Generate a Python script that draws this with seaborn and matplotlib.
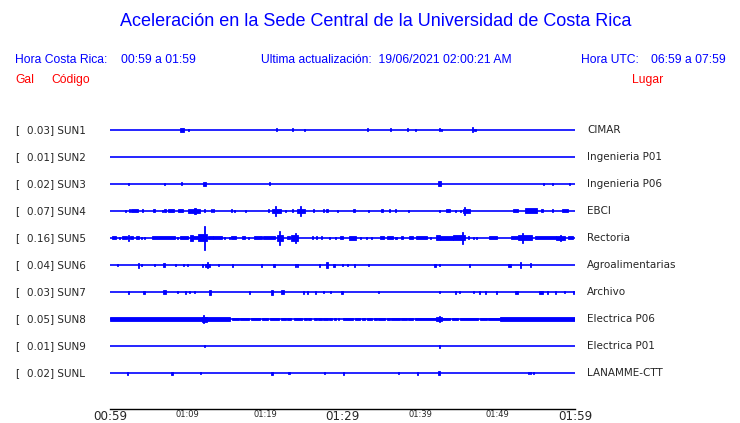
import numpy as np
import pandas as pd
import matplotlib
matplotlib.use("Agg")
import matplotlib.pyplot as plt
import seaborn as sns

# stations, top to bottom
codes = ["SUN1", "SUN2", "SUN3", "SUN4", "SUN5", "SUN6", "SUN7", "SUN8", "SUN9", "SUNL"]
peak_gal = [0.03, 0.01, 0.02, 0.07, 0.16, 0.04, 0.03, 0.05, 0.01, 0.02]
places = ["CIMAR", "Ingenieria P01", "Ingenieria P06", "EBCI", "Rectoria",
          "Agroalimentarias", "Archivo", "Electrica P06", "Electrica P01", "LANAMME-CTT"]

# bursts: (start minute, end minute, half amplitude)
sun1 = [(9.0, 9.5, 2), (10.1, 10.1, 1), (21.5, 21.5, 1.5), (23.5, 23.5, 1.5), (25.1, 25.1, 1),
        (33.2, 33.2, 1.5), (36.2, 36.2, 1.5), (38.4, 38.4, 1.5), (39.4, 39.4, 1),
        (42.4, 42.6, 1.5), (42.8, 42.8, 1), (46.8, 46.8, 2.5), (47.1, 47.1, 1)]
sun2 = []
sun3 = [(2.4, 2.4, 1), (7.0, 7.0, 1), (9.25, 9.25, 1.5), (12.0, 12.4, 2), (20.6, 20.6, 1.5),
        (42.3, 42.7, 2.5), (55.9, 55.9, 1), (57.1, 57.1, 1), (59.3, 59.3, 1)]
sun4 = [(2.0, 2.0, 1), (2.5, 2.5, 1.5), (2.7, 3.6, 1.5), (4.2, 4.2, 1.5), (5.5, 5.8, 1.5),
        (6.8, 6.8, 1), (7.0, 7.2, 1.5), (7.5, 8.2, 1.5), (8.8, 9.4, 1.5), (10.1, 11.6, 2),
        (10.9, 11.1, 3), (12.2, 12.2, 1.5), (13.1, 13.1, 1.5), (13.3, 13.3, 1.5),
        (15.7, 15.7, 1.5), (16.1, 16.1, 1), (17.5, 17.5, 1), (20.4, 20.4, 1.5), (20.9, 22.1, 2),
        (21.3, 21.3, 5), (22.6, 22.6, 1), (23.6, 23.6, 1.5), (24.1, 25.2, 2), (24.6, 24.6, 5),
        (26.2, 26.2, 1.5), (27.6, 27.6, 1.5), (28.0, 28.0, 1.5), (29.3, 29.3, 1),
        (31.3, 31.6, 1.5), (33.3, 33.3, 1), (35.1, 35.1, 1.5), (36.1, 36.1, 1.5),
        (36.8, 36.8, 1.5), (38.5, 38.5, 1), (42.5, 42.5, 1), (43.4, 43.9, 1.5), (44.6, 44.6, 1),
        (45.2, 45.2, 1), (45.5, 46.5, 2), (45.7, 45.7, 4), (52.0, 52.6, 1.5), (53.5, 55.1, 2.5),
        (55.6, 55.9, 1.5), (57.1, 57.1, 1.5), (58.3, 59.1, 1.5)]
sun5 = [(0.2, 0.8, 1.5), (1.2, 1.2, 1), (1.5, 2.2, 1.5), (2.4, 2.4, 3), (2.6, 3.0, 1.5),
        (3.3, 3.7, 1.5), (4.1, 4.1, 1), (4.5, 4.5, 1), (5.4, 8.4, 1.5), (8.7, 8.7, 1),
        (9.0, 10.1, 1.5), (10.3, 10.7, 3), (10.7, 11.4, 1.5), (11.4, 12.5, 3.5), (12.2, 12.2, 12),
        (12.7, 13.3, 1.5), (13.3, 14.4, 1.5), (14.8, 14.8, 1), (15.4, 15.4, 1), (15.6, 16.3, 1.5),
        (17.0, 17.4, 1.5), (17.9, 17.9, 1), (18.6, 19.6, 1.5), (19.7, 21.3, 1.5), (21.5, 22.3, 3),
        (21.9, 21.9, 7), (22.8, 23.2, 1.5), (23.4, 24.3, 3), (23.9, 23.9, 5), (26.1, 26.1, 1.5),
        (26.6, 26.6, 1.5), (27.3, 27.3, 1.5), (28.3, 28.3, 1), (29.1, 29.1, 1), (29.7, 30.1, 1.5),
        (30.8, 31.8, 2), (32.3, 32.3, 1), (33.1, 33.1, 1), (33.8, 33.8, 1), (34.8, 35.3, 1.5),
        (35.8, 36.5, 1.5), (36.9, 36.9, 1), (37.5, 37.8, 1.5), (38.6, 39.1, 1.5), (39.5, 40.9, 1.5),
        (41.3, 41.3, 1), (42.1, 42.6, 2.5), (42.6, 44.3, 2), (44.3, 45.8, 2.5), (45.5, 45.5, 6),
        (46.2, 46.2, 1.5), (46.9, 46.9, 1), (47.3, 47.3, 1), (48.9, 49.9, 1.5), (51.8, 52.7, 1.5),
        (52.7, 54.4, 2.5), (53.2, 53.2, 5), (54.8, 57.6, 1.5), (57.6, 58.7, 2), (58.1, 58.1, 3),
        (59.1, 59.8, 1.5)]
sun6 = [(1.0, 1.0, 1), (3.6, 3.8, 2.5), (4.1, 4.1, 1), (5.8, 5.8, 1), (6.9, 7.1, 2), (8.4, 8.4, 1),
        (9.5, 9.5, 1), (10.0, 10.0, 1), (11.9, 11.9, 1.5), (12.3, 12.9, 1.5), (12.6, 12.6, 3),
        (14.0, 14.0, 1), (15.8, 15.8, 1.5), (19.6, 19.6, 1.5), (21.0, 21.3, 1.5), (23.9, 23.9, 1.5),
        (24.2, 24.2, 1.5), (27.0, 27.0, 1.5), (28.0, 28.0, 3), (28.9, 28.9, 1.5), (30.0, 30.0, 1),
        (30.6, 30.6, 1), (31.6, 31.6, 1.5), (33.3, 33.3, 1), (41.8, 42.0, 1.5), (42.5, 42.5, 1),
        (46.3, 46.5, 1.5), (51.4, 51.8, 1.5), (53.0, 53.0, 3), (54.3, 54.3, 2)]
sun7 = [(2.4, 2.4, 1.5), (4.3, 4.5, 1.5), (6.9, 7.2, 2), (8.7, 8.7, 1), (9.8, 9.8, 1.5),
        (10.3, 10.3, 1), (10.9, 10.9, 1), (12.9, 12.9, 2.5), (17.9, 18.1, 1.5), (20.9, 20.9, 2.5),
        (22.0, 22.4, 2), (25.0, 25.0, 1.5), (25.5, 25.5, 1.5), (26.5, 26.5, 1.5), (27.5, 27.5, 1),
        (28.4, 28.4, 1), (29.8, 30.0, 1.5), (34.7, 34.7, 1), (42.5, 42.5, 1), (44.5, 44.7, 1.5),
        (45.1, 45.1, 1), (46.9, 46.9, 1), (47.7, 47.7, 1.5), (48.4, 48.4, 1.5), (49.9, 49.9, 1.5),
        (52.3, 52.7, 1.5), (55.4, 55.9, 1.5), (56.4, 56.4, 1.5), (57.5, 57.5, 1.5), (58.6, 58.6, 1),
        (59.8, 59.8, 1.5)]
sun8 = [(0.0, 15.5, 1.8), (11.9, 12.5, 2.5), (12.1, 12.1, 4),
        (15.7, 16.6, 1.3), (16.8, 18.0, 1.3), (18.2, 19.4, 1.3), (19.6, 20.4, 1.3), (20.6, 21.8, 1.3),
        (22.0, 22.7, 1.3), (22.9, 23.4, 1.3), (23.7, 24.8, 1.3), (25.0, 25.4, 1.3), (25.6, 26.0, 1.3),
        (26.3, 26.7, 1.3), (26.9, 27.3, 1.3), (27.5, 28.1, 1.3), (28.3, 28.6, 1.3), (28.9, 29.1, 1.3),
        (29.4, 29.6, 1.3), (30.1, 31.4, 1.3), (31.6, 32.3, 1.3), (32.5, 32.9, 1.3), (33.1, 33.8, 1.3),
        (34.0, 34.4, 1.3), (34.6, 35.5, 1.3), (35.7, 36.1, 1.3), (36.3, 37.4, 1.3), (37.6, 38.3, 1.3),
        (38.5, 39.1, 1.3), (39.4, 42.1, 1.3), (42.1, 42.9, 2), (42.5, 42.5, 3), (42.8, 43.9, 1.3),
        (44.1, 44.9, 1.3), (45.2, 47.5, 1.3), (47.7, 48.6, 1.3), (48.8, 50.3, 1.3), (50.3, 60.0, 1.8)]
sun9 = [(12.2, 12.2, 1), (42.5, 42.5, 1.5)]
sunl = [(2.2, 2.2, 1.5), (8.0, 8.0, 1.5), (11.7, 11.7, 1), (20.9, 20.9, 1.5), (23.1, 23.1, 1),
        (27.7, 27.7, 1), (30.1, 30.1, 1.5), (37.2, 37.2, 1), (39.7, 39.7, 1.5), (42.3, 42.6, 2),
        (54.0, 54.0, 1), (54.3, 54.3, 1), (54.6, 54.6, 1)]
traces = [sun1, sun2, sun3, sun4, sun5, sun6, sun7, sun8, sun9, sunl]

tick_min = list(range(0, 61, 5))
tick_text = {0: "00:59", 10: "01:09", 20: "01:19", 30: "01:29", 40: "01:39", 50: "01:49", 60: "01:59"}
big_ticks = [0, 30, 60]

W, H = 740, 423
sns.set_style("white")
plt.rcParams["font.family"] = ["DejaVu Sans"]
fig = plt.figure(figsize=(W / 100, H / 100), dpi=100)

def fx(px):
    return px / W

def fy(py):
    return 1 - py / H

# trace area: x from 110 to 575 px, axis line at y=409, first trace at 130, spacing 27
ax = fig.add_axes([fx(110), fy(409), fx(575) - fx(110), fy(116.5) - fy(409)])
px_per_row = 27.0

base = pd.DataFrame({
    "t": np.tile([0, 60], len(codes)),
    "row": np.repeat(np.arange(len(codes)), 2),
    "code": np.repeat(codes, 2),
})
sns.lineplot(data=base, x="t", y="row", units="code", estimator=None,
             color="#0000ff", lw=1.2, ax=ax, legend=False)

for i, bursts in enumerate(traces):
    if not bursts:
        continue
    b = pd.DataFrame(bursts, columns=["t0", "t1", "amp"])
    width = np.maximum(b.t1 - b.t0, 0.14)
    half = b.amp / px_per_row
    ax.bar((b.t0 + b.t1) / 2, 2 * half, width=width, bottom=i - half,
           color="#0000ff", edgecolor="#0000ff", linewidth=0.6)

ax.set_xlim(0, 60)
ax.set_ylim((409 - 130) / px_per_row, -0.5)
ax.set_xlabel("")
ax.set_ylabel("")
ax.set_yticks([])
for s in ["top", "left", "right"]:
    ax.spines[s].set_visible(False)
ax.spines["bottom"].set_linewidth(1)
ax.spines["bottom"].set_color("black")
ax.set_xticks(tick_min)
ax.set_xticklabels([tick_text.get(m, "") for m in tick_min])
ax.tick_params(axis="x", direction="in", length=6.5, width=0.8, color="black", pad=1)
for m, lab in zip(tick_min, ax.get_xticklabels()):
    lab.set_fontsize(8.6 if m in big_ticks else 6)

# left / right labels
for i, (g, c, p) in enumerate(zip(peak_gal, codes, places)):
    y = fy(130 + i * px_per_row)
    fig.text(fx(15), y, "[", fontsize=7.5, va="center")
    fig.text(fx(27), y, f"{g:.2f}] {c}", fontsize=7.5, va="center")
    fig.text(fx(587), y, p, fontsize=7.5, va="center")

hfont = ["Liberation Sans", "DejaVu Sans"]
blue, red = "#0000ff", "#ff0000"
fig.text(fx(376), fy(22), "Aceleración en la Sede Central de la Universidad de Costa Rica",
         family=hfont, fontsize=13, color=blue, ha="center", va="center")
fig.text(fx(15), fy(60), "Hora Costa Rica:", family=hfont, fontsize=8.7, color=blue, va="center")
fig.text(fx(121), fy(60), "00:59 a 01:59", family=hfont, fontsize=8.7, color=blue, va="center")
fig.text(fx(261), fy(60), "Ultima actualización:  19/06/2021 02:00:21 AM", family=hfont,
         fontsize=8.7, color=blue, va="center")
fig.text(fx(581), fy(60), "Hora UTC:", family=hfont, fontsize=8.7, color=blue, va="center")
fig.text(fx(726), fy(60), "06:59 a 07:59", family=hfont, fontsize=8.7, color=blue,
         ha="right", va="center")
fig.text(fx(15), fy(80), "Gal", family=hfont, fontsize=8.7, color=red, va="center")
fig.text(fx(51), fy(80), "Código", family=hfont, fontsize=8.7, color=red, va="center")
fig.text(fx(632), fy(80), "Lugar", family=hfont, fontsize=8.7, color=red, va="center")

fig.savefig("out.png", dpi=100)
